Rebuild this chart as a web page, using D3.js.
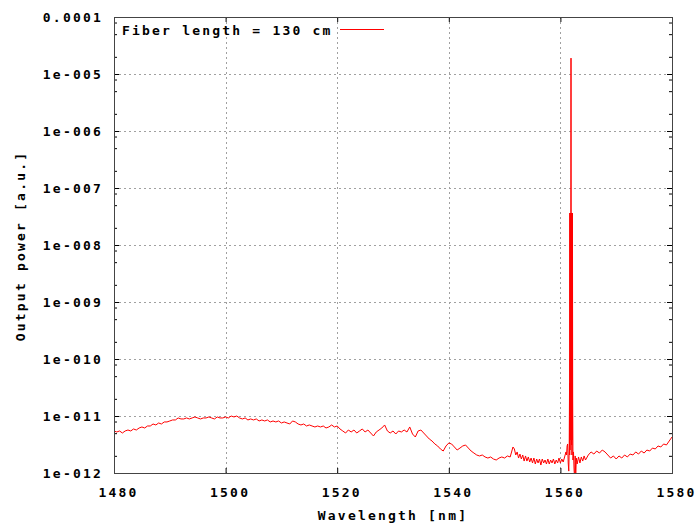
<!doctype html>
<html lang="en">
    <head>
        <meta charset="UTF-8" />
        <title>Output power vs wavelength</title>
        <script src="https://d3js.org/d3.v7.min.js"></script>
        <style>
            body {
                margin: 0;
                background: #fff;
            }
            text {
                font-family: "DejaVu Sans Mono", monospace;
                font-size: 13px;
                font-weight: bold;
                letter-spacing: 2.2px;
                fill: #000;
            }
        </style>
    </head>
    <body>
        <svg id="chart" width="697" height="523"></svg>
        <script>
            // wavelength in nm
            const wavelength = [
                1480, 1480.5, 1481, 1481.5, 1482, 1482.5, 1483, 1483.5, 1484, 1484.5,
                1485, 1485.5, 1486, 1486.5, 1487, 1487.5, 1488, 1488.5, 1489, 1489.5,
                1490, 1490.5, 1491, 1491.5, 1492, 1492.5, 1493, 1493.5, 1494, 1494.5,
                1495, 1495.5, 1496, 1496.5, 1497, 1497.5, 1498, 1498.5, 1499, 1499.5,
                1500, 1500.5, 1501, 1501.5, 1502, 1502.5, 1503, 1503.5, 1504, 1504.5,
                1505, 1505.5, 1506, 1506.5, 1507, 1507.5, 1508, 1508.5, 1509, 1509.5,
                1510, 1510.5, 1511, 1511.5, 1512, 1512.5, 1513, 1513.5, 1514, 1514.5,
                1515, 1515.5, 1516, 1516.5, 1517, 1517.5, 1518, 1518.5, 1519, 1519.5,
                1520, 1520.5, 1521, 1521.5, 1522, 1522.5, 1523, 1523.5, 1524, 1524.5,
                1525, 1525.5, 1526, 1526.5, 1527, 1527.5, 1528, 1528.5, 1529, 1529.5,
                1530, 1530.5, 1531, 1531.5, 1532, 1532.5, 1533, 1533.5, 1534, 1534.5,
                1535, 1535.5, 1536, 1536.5, 1537, 1537.5, 1538, 1538.5, 1539, 1539.5,
                1540, 1540.5, 1541, 1541.5, 1542, 1542.5, 1543, 1543.5, 1544, 1544.5,
                1545, 1545.5, 1546, 1546.5, 1547, 1547.5, 1548, 1548.5, 1549, 1549.5,
                1550, 1550.5, 1551, 1551.5,
                1551.75, 1552, 1552.25, 1552.5, 1552.75, 1553, 1553.25, 1553.5, 1553.75,
                1554, 1554.25, 1554.5, 1554.75, 1555, 1555.25, 1555.5, 1555.75,
                1556, 1556.25, 1556.5, 1556.75, 1557, 1557.25, 1557.5, 1557.75,
                1558, 1558.25, 1558.5, 1558.75, 1559, 1559.25, 1559.5, 1559.75,
                1560, 1560.25, 1560.5, 1560.75,
                1561, 1561.1, 1561.2, 1561.3, 1561.4, 1561.5, 1561.58, 1561.64, 1561.67,
                1561.7, 1561.73, 1561.76, 1561.79, 1561.82, 1561.85, 1561.88, 1561.9,
                1561.92, 1561.95, 1561.98, 1562.01, 1562.04, 1562.07, 1562.1, 1562.13,
                1562.16, 1562.2, 1562.25, 1562.35, 1562.45, 1562.55, 1562.65, 1562.75,
                1562.85, 1563, 1563.25, 1563.5, 1563.75, 1564, 1564.25, 1564.5,
                1565, 1565.5, 1566, 1566.5, 1567, 1567.5, 1568, 1568.5, 1569, 1569.5,
                1570, 1570.5, 1571, 1571.5, 1572, 1572.5, 1573, 1573.5, 1574, 1574.5,
                1575, 1575.5, 1576, 1576.5, 1577, 1577.5, 1578, 1578.5, 1579, 1579.5,
                1580,
            ];

            // output power, in units of 1e-12 a.u.
            const power = [
                5.46, 5.24, 5.46, 5.03, 5.46, 5.68, 5.46, 5.92, 5.68, 6.16,
                6.42, 6.16, 6.68, 6.68, 7.24, 6.96, 7.54, 7.24, 7.86, 7.86,
                8.18, 8.52, 8.52, 9.24, 8.87, 8.87, 9.24, 8.87, 9.24, 9.62,
                9.24, 8.87, 9.24, 9.24, 9.62, 9.24, 8.87, 9.62, 9.24, 9.24,
                9.62, 9.24, 10.0, 9.62, 10.0, 9.24, 8.87, 9.24, 8.52, 8.87,
                8.52, 8.87, 8.18, 8.52, 8.18, 8.52, 7.86, 8.18, 7.86, 8.18,
                7.54, 7.86, 7.54, 7.24, 8.18, 7.86, 7.24, 6.96, 7.24, 6.68,
                6.96, 6.68, 6.42, 6.68, 6.42, 6.68, 6.16, 6.42, 6.96, 6.42,
                6.68, 5.92, 5.46, 5.03, 5.68, 5.24, 5.68, 5.03, 5.46, 5.92,
                5.24, 5.68, 5.03, 4.46, 5.24, 5.68, 6.16, 6.96, 5.46, 5.03,
                5.46, 4.83, 5.46, 5.24, 5.68, 5.24, 6.42, 4.83, 4.28, 5.46,
                5.68, 5.03, 4.46, 3.95, 3.64, 3.23, 2.98, 2.64, 2.43, 2.98,
                3.36, 3.23, 2.86, 2.53, 2.74, 2.98, 3.1, 2.74, 2.43, 2.24,
                2.07, 1.99, 2.07, 1.91, 1.83, 1.91, 1.76, 1.69, 1.83, 1.91,
                1.83, 1.99, 1.91, 2.86,
                2.64, 2.07, 2.34, 1.83, 2.15, 1.76, 2.07, 1.62, 1.99,
                1.62, 1.91, 1.56, 1.83, 1.5, 1.83, 1.44, 1.76,
                1.5, 1.76, 1.38, 1.76, 1.5, 1.69, 1.44, 1.76,
                1.44, 1.69, 1.5, 1.76, 1.44, 1.69, 1.5, 1.83,
                1.5, 1.76, 1.56, 1.91,
                2.34, 2.07, 2.98, 3.23, 1.5, 1.08, 2.74, 37.9, 2.07,
                36400, 2.53, 36400, 3.79, 36400, 5.68, 36400, 1.9e7,
                36400, 8.52, 36400, 3.1, 36400, 2.07, 36400, 3.79,
                36400, 21.5, 1.69, 2.34, 1.13, 0.82, 1.99, 0.89,
                1.83, 1.44, 1.91, 1.5, 1.91, 1.62, 1.99, 1.69,
                2.07, 2.34, 2.15, 2.43, 2.24, 2.53, 2.34, 2.07, 1.83, 1.99,
                1.76, 1.99, 1.83, 2.07, 1.91, 2.15, 2.07, 2.34, 2.15, 2.43,
                2.24, 2.53, 2.43, 2.74, 2.64, 2.98, 2.86, 3.23, 3.1, 3.64,
                4.28,
            ];
            const powerUnit = 1e-12;

            const xTicks = [1480, 1500, 1520, 1540, 1560, 1580];
            const xTickLabels = ["1480", "1500", "1520", "1540", "1560", "1580"];
            const yTicks = [1e-12, 1e-11, 1e-10, 1e-9, 1e-8, 1e-7, 1e-6, 1e-5, 1e-4];
            const yTickLabels = [
                "1e-012", "1e-011", "1e-010", "1e-009", "1e-008",
                "1e-007", "1e-006", "1e-005", "0.0001",
            ];
            const yMinorSteps = [2, 5, 8];
            const legendLabel = "Fiber length = 130 cm";

            const svg = d3.select("#chart");
            const width = +svg.attr("width");
            const height = +svg.attr("height");
            const margin = { top: 17, right: 25, bottom: 50, left: 114 };

            const x = d3
                .scaleLinear()
                .domain([1480, 1580])
                .range([margin.left, width - margin.right]);

            const y = d3
                .scaleLog()
                .domain([1e-12, 1e-4])
                .range([height - margin.bottom, margin.top]);

            const yMinor = [];
            yTicks.slice(0, -1).forEach((d) =>
                yMinorSteps.forEach((k) => yMinor.push(d * k)),
            );

            // grid
            const grid = svg
                .append("g")
                .attr("stroke", "#a0a0a0")
                .attr("stroke-dasharray", "2,3");
            grid.selectAll("line.gx")
                .data(xTicks.slice(1, -1))
                .join("line")
                .attr("x1", (d) => Math.round(x(d)) + 0.5)
                .attr("x2", (d) => Math.round(x(d)) + 0.5)
                .attr("y1", margin.top)
                .attr("y2", height - margin.bottom);
            grid.selectAll("line.gy")
                .data(yTicks.slice(1, -1))
                .join("line")
                .attr("x1", margin.left)
                .attr("x2", width - margin.right)
                .attr("y1", (d) => Math.round(y(d)) + 0.5)
                .attr("y2", (d) => Math.round(y(d)) + 0.5);

            // spectrum
            svg.append("clipPath")
                .attr("id", "clip")
                .append("rect")
                .attr("x", margin.left)
                .attr("y", margin.top)
                .attr("width", width - margin.left - margin.right)
                .attr("height", height - margin.top - margin.bottom);

            const line = d3
                .line()
                .x((d, i) => x(wavelength[i]))
                .y((d) => y(d * powerUnit));

            svg.append("path")
                .datum(power)
                .attr("clip-path", "url(#clip)")
                .attr("fill", "none")
                .attr("stroke", "#ff0000")
                .attr("stroke-width", 1)
                .attr("d", line);

            // axes (ticks pointing inward, mirrored)
            const noDomain = (g) => g.select(".domain").remove();

            svg.append("g")
                .attr("transform", `translate(0,${height - margin.bottom})`)
                .call(
                    d3.axisBottom(x)
                        .tickValues(xTicks)
                        .tickSize(-5)
                        .tickPadding(15)
                        .tickFormat((d, i) => xTickLabels[i]),
                )
                .call(noDomain)
                .call((g) => g.selectAll("text").attr("dx", 4));

            svg.append("g")
                .attr("transform", `translate(0,${margin.top})`)
                .call(d3.axisTop(x).tickValues(xTicks).tickSize(-5).tickFormat(""))
                .call(noDomain);

            svg.append("g")
                .attr("transform", `translate(${margin.left},0)`)
                .call(
                    d3.axisLeft(y)
                        .tickValues(yTicks)
                        .tickSize(-5)
                        .tickPadding(11)
                        .tickFormat((d, i) => yTickLabels[i]),
                )
                .call(noDomain);

            svg.append("g")
                .attr("transform", `translate(${margin.left},0)`)
                .call(d3.axisLeft(y).tickValues(yMinor).tickSize(-3).tickFormat(""))
                .call(noDomain);

            svg.append("g")
                .attr("transform", `translate(${width - margin.right},0)`)
                .call(d3.axisRight(y).tickValues(yTicks).tickSize(-5).tickFormat(""))
                .call(noDomain);

            svg.append("g")
                .attr("transform", `translate(${width - margin.right},0)`)
                .call(d3.axisRight(y).tickValues(yMinor).tickSize(-3).tickFormat(""))
                .call(noDomain);

            svg.selectAll(".tick text")
                .attr("font-family", null)
                .attr("font-size", null);

            // frame
            svg.append("rect")
                .attr("x", margin.left + 0.5)
                .attr("y", margin.top + 0.5)
                .attr("width", width - margin.left - margin.right)
                .attr("height", height - margin.top - margin.bottom)
                .attr("fill", "none")
                .attr("stroke", "#444");

            // legend
            svg.append("text")
                .attr("x", 122)
                .attr("y", 35)
                .text(legendLabel);
            svg.append("line")
                .attr("x1", 340)
                .attr("x2", 384)
                .attr("y1", 29.5)
                .attr("y2", 29.5)
                .attr("stroke", "#ff0000");

            // axis titles
            svg.append("text")
                .attr("x", 393)
                .attr("y", 520)
                .attr("text-anchor", "middle")
                .text("Wavelength [nm]");

            svg.append("text")
                .attr("transform", "translate(25,246) rotate(-90)")
                .attr("text-anchor", "middle")
                .text("Output power [a.u.]");
        </script>
    </body>
</html>
